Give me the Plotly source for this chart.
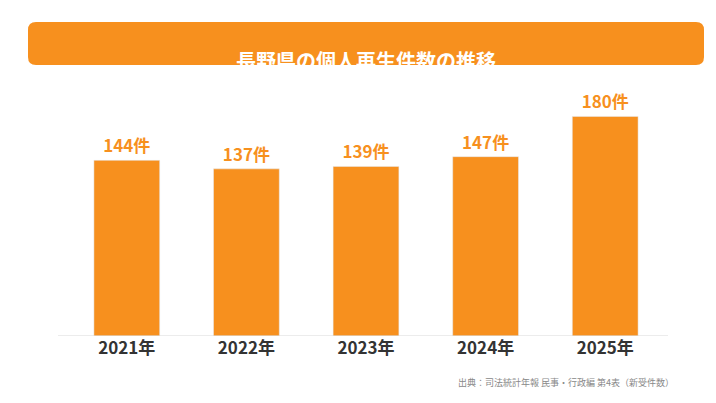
import plotly.graph_objects as go

years = ["2021年", "2022年", "2023年", "2024年", "2025年"]
counts = [144, 137, 139, 147, 180]
labels = [f"{v}件" for v in counts]
title = "長野県の個人再生件数の推移"
source = "出典：司法統計年報 民事・行政編 第4表（新受件数）"

orange = "#F7901E"
font = "Noto Sans CJK JP"

fig = go.Figure(go.Bar(
    x=years, y=counts, width=0.55, marker_color=orange,
    text=labels, textposition="outside", cliponaxis=False,
    textfont=dict(family=font, size=17, color=orange, weight="bold"),
))
fig.update_layout(
    width=716, height=403, paper_bgcolor="white", plot_bgcolor="white",
    margin=dict(l=59, r=59, t=84, b=75), showlegend=False,
    xaxis=dict(range=[-0.5, 4.5], showgrid=False, showline=False, ticks="",
               tickfont=dict(family=font, size=17, color="#333333", weight="bold")),
    yaxis=dict(range=[0, 200], visible=False),
    shapes=[
        dict(type="rect", xref="paper", yref="paper", x0=-39/598, x1=637/598,
             y0=(403-75-(403-57))/244 + 0, y1=0, line_width=0, fillcolor=orange, visible=False),
        dict(type="path", xref="paper", yref="paper",
             path="", visible=False),
        dict(type="line", xref="paper", yref="y", x0=-9/598, x1=601/598, y0=0, y1=0,
             line=dict(color="#d9d9d9", width=1)),
    ],
)
# banner in pixel-based paper coords
def px(x): return (x - 59) / 598
def py(y): return (328 - y) / 244
x0, x1, y0, y1, r = 20, 696, 14, 57, 8
path = (f"M {px(x0+r)},{py(y0)} L {px(x1-r)},{py(y0)} Q {px(x1)},{py(y0)} {px(x1)},{py(y0+r)} "
        f"L {px(x1)},{py(y1-r)} Q {px(x1)},{py(y1)} {px(x1-r)},{py(y1)} L {px(x0+r)},{py(y1)} "
        f"Q {px(x0)},{py(y1)} {px(x0)},{py(y1-r)} L {px(x0)},{py(y0+r)} Q {px(x0)},{py(y0)} {px(x0+r)},{py(y0)} Z")
fig.add_shape(type="path", xref="paper", yref="paper", path=path, fillcolor=orange, line_width=0)
fig.add_annotation(xref="paper", yref="paper", x=px(358), y=py(36), text=title, showarrow=False,
                   font=dict(family=font, size=20, color="white", weight="bold"))
fig.add_annotation(xref="paper", yref="paper", x=px(668), y=py(383), xanchor="right", text=source,
                   showarrow=False, font=dict(family=font, size=9, color="#888888"))
fig.write_html("out.html")
